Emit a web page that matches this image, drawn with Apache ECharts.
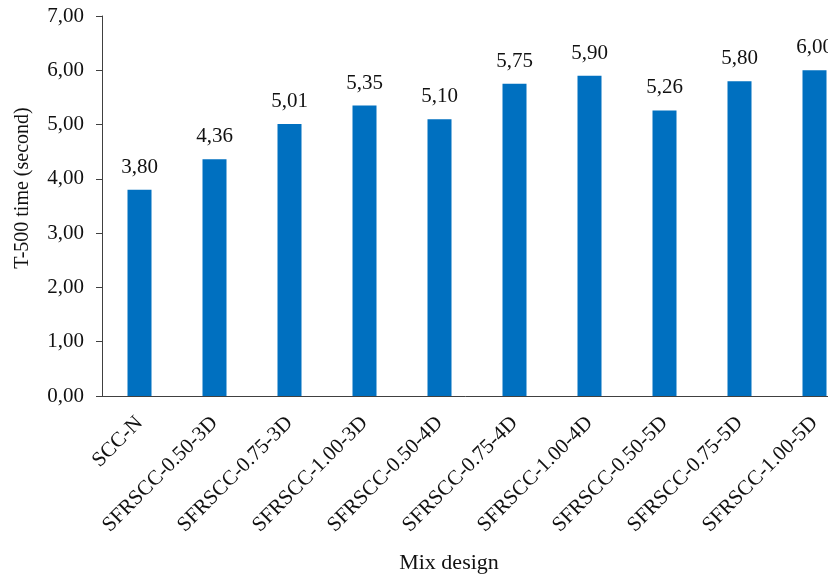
<!DOCTYPE html>
<html><head><meta charset="utf-8">
<script src="https://cdn.jsdelivr.net/npm/echarts@6/dist/echarts.min.js"></script>
<style>html,body{margin:0;padding:0;background:#fff}#c{width:828px;height:575px}</style>
</head><body><div id="c"></div>
<script>
const categories = ["SCC-N","SFRSCC-0.50-3D","SFRSCC-0.75-3D","SFRSCC-1.00-3D","SFRSCC-0.50-4D","SFRSCC-0.75-4D","SFRSCC-1.00-4D","SFRSCC-0.50-5D","SFRSCC-0.75-5D","SFRSCC-1.00-5D"];
const values = [3.80,4.36,5.01,5.35,5.10,5.75,5.90,5.26,5.80,6.00];
const yTicks = [0,1,2,3,4,5,6,7];
const fmt = v => v.toFixed(2).replace('.', ',');
const font = "Liberation Serif";
const chart = echarts.init(document.getElementById('c'));
chart.setOption({
  animation:false,
  grid:{left:102, top:16, width:750, height:380, containLabel:false, outerBoundsMode:'none'},
  xAxis:{type:'category', data:categories, boundaryGap:true,
    axisLine:{lineStyle:{color:'#404040', width:1}},
    axisTick:{alignWithLabel:true, length:6, lineStyle:{color:'#404040'}},
    axisLabel:{rotate:45, interval:0, color:'#111', fontFamily:font, fontSize:21, margin:24},
    name:'Mix design', nameLocation:'middle', nameGap:156,
    nameTextStyle:{color:'#111', fontFamily:font, fontSize:22, padding:[0,56,0,0]}},
  yAxis:{type:'value', min:yTicks[0], max:yTicks[yTicks.length-1], interval:1,
    axisLine:{show:true, lineStyle:{color:'#404040', width:1}},
    axisTick:{show:true, length:6, lineStyle:{color:'#404040'}},
    splitLine:{show:false},
    axisLabel:{formatter:fmt, color:'#111', fontFamily:font, fontSize:21, margin:18},
    name:'T-500 time (second)', nameLocation:'middle', nameGap:69,
    nameTextStyle:{color:'#111', fontFamily:font, fontSize:20, padding:[0,0,0,36]}},
  series:[{type:'bar', data:values, barWidth:24, itemStyle:{color:'#0070C0'},
    label:{show:true, position:'top', distance:12, formatter:p=>fmt(p.value), color:'#111', fontFamily:font, fontSize:21}}]
});
</script></body></html>
